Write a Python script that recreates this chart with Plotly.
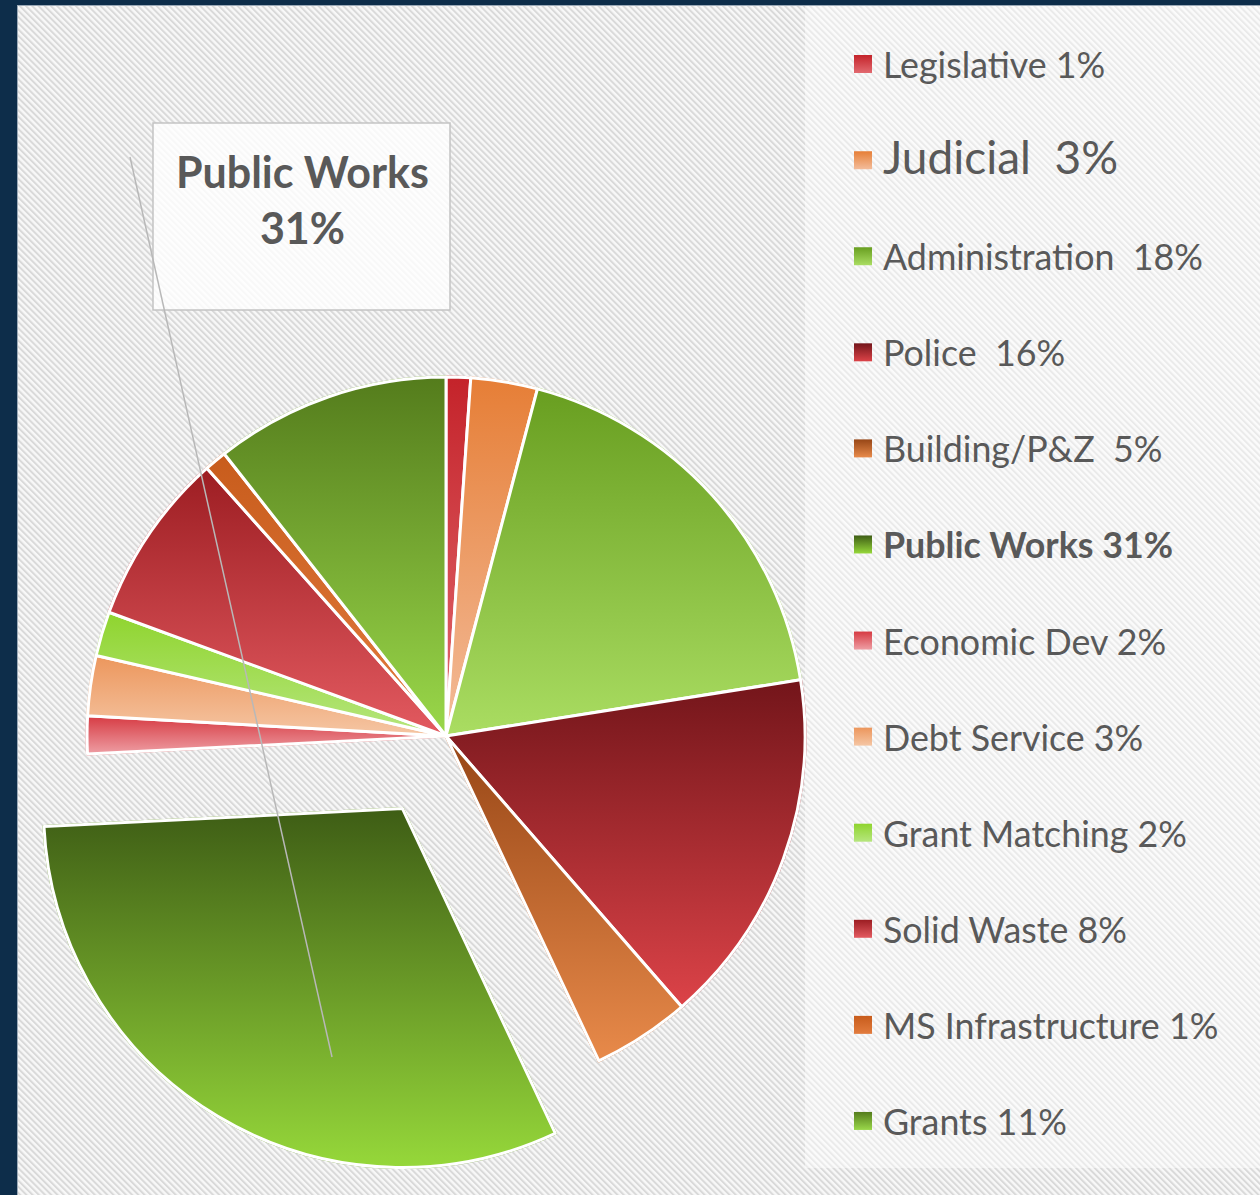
import base64
import json
import plotly.graph_objects as go

# ---------------- data ----------------
categories = ["Legislative", "Judicial", "Administration", "Police", "Building/P&Z",
              "Public Works", "Economic Dev", "Debt Service", "Grant Matching",
              "Solid Waste", "MS Infrastructure", "Grants"]
pct_labels = ["1%", "3%", "18%", "16%", "5%", "31%", "2%", "3%", "2%", "8%", "1%", "11%"]
shares = [1.1, 3.0, 18.4, 16.1, 4.4, 31.2, 1.7, 2.7, 2.0, 7.8, 1.0, 10.6]
label_gaps = [1, 2, 2, 2, 2, 1, 1, 1, 1, 1, 1, 1]  # spaces between name and percent in legend

# ---------------- style ----------------
colors = ["#d0383e", "#ec9a66", "#8cc244", "#aa2b30", "#c8692e", "#6a9a26",
          "#e2676d", "#f0ad80", "#a0da52", "#c2414a", "#d3662a", "#78aa32"]
# vertical gradient (top, bottom) applied to each slice / swatch
gradient_top = ["#c4232a", "#e67e36", "#689e20", "#73151a", "#974616", "#3e5d15",
                "#d63a42", "#ec965c", "#8fd42e", "#9c1d22", "#c85c1c", "#547c1c"]
gradient_bottom = ["#e26a70", "#f3bc9a", "#aadd62", "#dc4348", "#e88a4a", "#96d83a",
                   "#ee9ea4", "#f5c6a4", "#b6e67e", "#e35a60", "#e27c3e", "#9ad84a"]
pulls = [0, 0, 0, 0, 0, 0.2357, 0, 0, 0, 0, 0, 0]
highlight = "Public Works"

W, H = 1260, 1195


def fx(x):
    return x / W


def fy(y):
    return 1 - y / H


TEXT = "#595959"
FONT = "Lato, 'Open Sans', sans-serif"

legend_labels = []
for cat, pct, gap in zip(categories, pct_labels, label_gaps):
    txt = f"{cat}{'&nbsp;' * gap}{pct}"
    if cat == "Judicial":
        txt = f"<span style='font-size:46px'>{txt}</span>"
    if cat == highlight:
        txt = f"<b>{txt}</b>"
    legend_labels.append(txt + "<br>&nbsp;")

hover = [f"{c} {p}" for c, p in zip(categories, pct_labels)]
domain = dict(x=[fx(2.4), fx(889.6)], y=[fy(1179.6), fy(292.4)])

common = dict(labels=legend_labels, values=shares, sort=False, direction="clockwise",
              rotation=0, pull=pulls, textinfo="none", hovertext=hover,
              hoverinfo="text", domain=domain)

fig = go.Figure()
# base layer (feeds the legend with solid swatches)
fig.add_trace(go.Pie(marker=dict(colors=colors, line=dict(color=colors, width=3)),
                     showlegend=True, **common))
# top layer with white slice separators
fig.add_trace(go.Pie(marker=dict(colors=colors, line=dict(color="white", width=3)),
                     showlegend=False, **common))

# hatched background
svg = f'''<svg xmlns="http://www.w3.org/2000/svg" width="{W}" height="{H}">
<defs><pattern id="h" width="4.4" height="4.4" patternUnits="userSpaceOnUse" patternTransform="rotate(-45)">
<rect width="4.4" height="4.4" fill="#f8f8f8"/><rect width="2.0" height="4.4" fill="#d9d9d9"/></pattern></defs>
<rect width="100%" height="100%" fill="url(#h)"/></svg>'''
src = "data:image/svg+xml;base64," + base64.b64encode(svg.encode()).decode()

shapes = [
    # lighter legend panel
    dict(type="rect", xref="paper", yref="paper", x0=fx(805), x1=1, y0=fy(1168), y1=fy(5),
         fillcolor="rgba(255,255,255,0.45)", line=dict(width=0), layer="below"),
    # navy frame
    dict(type="rect", xref="paper", yref="paper", x0=0, x1=fx(17), y0=0, y1=1,
         fillcolor="#0d2d4a", line=dict(width=0), layer="above"),
    dict(type="rect", xref="paper", yref="paper", x0=0, x1=1, y0=fy(5), y1=1,
         fillcolor="#0d2d4a", line=dict(width=0), layer="above"),
    dict(type="line", xref="paper", yref="paper", x0=fx(17.5), x1=fx(17.5), y0=0, y1=fy(5),
         line=dict(color="#9aa8b6", width=1), layer="above"),
    dict(type="line", xref="paper", yref="paper", x0=fx(17), x1=1, y0=fy(5.5), y1=fy(5.5),
         line=dict(color="#9aa8b6", width=1), layer="above"),
    # callout box and leader line
    dict(type="rect", xref="paper", yref="paper", x0=fx(153), x1=fx(450), y0=fy(310), y1=fy(123),
         fillcolor="rgba(255,255,255,0.8)", line=dict(color="#c3c3c3", width=1.5), layer="above"),
    dict(type="line", xref="paper", yref="paper", x0=fx(130), y0=fy(157), x1=fx(332), y1=fy(1057),
         line=dict(color="#b8b8b8", width=1.5), layer="above"),
]

hi = categories.index(highlight)
fig.update_layout(
    width=W, height=H,
    margin=dict(l=0, r=0, t=0, b=0, autoexpand=False),
    paper_bgcolor="#f0f0f0",
    plot_bgcolor="rgba(0,0,0,0)",
    images=[dict(source=src, xref="paper", yref="paper", x=0, y=1, sizex=1, sizey=1,
                 xanchor="left", yanchor="top", sizing="stretch", layer="below")],
    shapes=shapes,
    annotations=[dict(xref="paper", yref="paper", x=fx(302), y=fy(199.5),
                      text=f"<b>{categories[hi]}<br>{pct_labels[hi]}</b>",
                      showarrow=False, xanchor="center", yanchor="middle",
                      font=dict(family=FONT, size=43, color=TEXT))],
    legend=dict(x=fx(843), y=fy(34.3), xanchor="left", yanchor="top",
                bgcolor="rgba(0,0,0,0)", borderwidth=0, valign="top",
                font=dict(family=FONT, size=35.8, color=TEXT)),
    font=dict(family=FONT, color=TEXT),
)

grads = json.dumps([[t, b] for t, b in zip(gradient_top, gradient_bottom)])
post_js = """
var gd = document.getElementById('{plot_id}');
var grads = GRADS;
function applyGrads() {
  var ns = 'http://www.w3.org/2000/svg';
  var svg = gd.querySelector('svg.main-svg');
  if (!svg) return;
  var defs = svg.querySelector('defs');
  if (!defs) { defs = document.createElementNS(ns, 'defs'); svg.insertBefore(defs, svg.firstChild); }
  grads.forEach(function (g, i) {
    var id = 'slicegrad' + i;
    if (document.getElementById(id)) return;
    var lg = document.createElementNS(ns, 'linearGradient');
    lg.setAttribute('id', id);
    lg.setAttribute('x1', '0'); lg.setAttribute('y1', '0');
    lg.setAttribute('x2', '0'); lg.setAttribute('y2', '1');
    [[0, g[0]], [1, g[1]]].forEach(function (s) {
      var st = document.createElementNS(ns, 'stop');
      st.setAttribute('offset', s[0]);
      st.setAttribute('stop-color', s[1]);
      lg.appendChild(st);
    });
    defs.appendChild(lg);
  });
  gd.querySelectorAll('g.slice').forEach(function (sl) {
    var d = sl.__data__;
    if (!d || d.i === undefined) return;
    var p = sl.querySelector('path.surface');
    if (p) p.style.fill = 'url(#slicegrad' + d.i + ')';
  });
  gd.querySelectorAll('g.legend g.traces').forEach(function (tr, k) {
    var p = tr.querySelector('path.legendpie');
    var d = tr.__data__;
    var idx = (d && d[0] && d[0].i !== undefined) ? d[0].i : k;
    if (p) {
      p.setAttribute('d', 'M9,9H-9V-9H9Z');
      p.style.fill = 'url(#slicegrad' + idx + ')';
      p.style.stroke = 'none';
    }
  });
}
applyGrads();
gd.on('plotly_afterplot', applyGrads);
""".replace("GRADS", grads)

fig.write_html("out.html", post_script=post_js)
